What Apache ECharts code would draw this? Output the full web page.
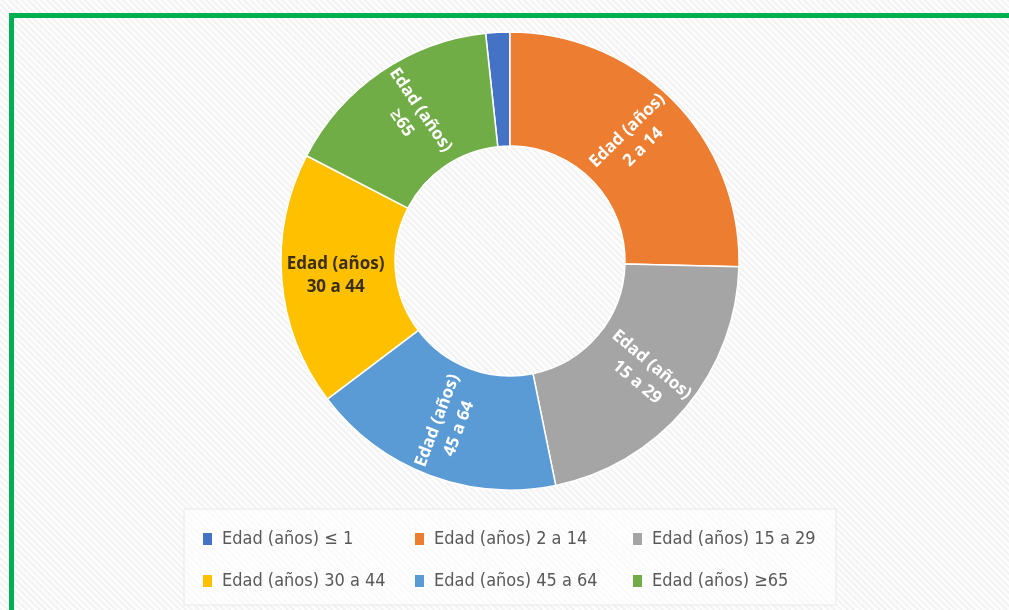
<!DOCTYPE html>
<html>
<head>
<meta charset="utf-8">
<script src="https://cdn.jsdelivr.net/npm/echarts@6.0.0/dist/echarts.min.js"></script>
<style>
  html, body {
    margin: 0;
    padding: 0;
    width: 1009px;
    height: 610px;
    overflow: hidden;
    background: repeating-linear-gradient(45deg, #f3f3f3 0px, #f3f3f3 2px, #fdfdfd 2px, #fdfdfd 4.5px);
  }
  #donut {
    width: 1009px;
    height: 610px;
  }
</style>
</head>
<body>
<div id="donut"></div>
<script>
// grupos de edad, en el orden de las porciones (sentido horario desde arriba)
var grupos = ['Edad (años) ≤ 1', 'Edad (años) 2 a 14', 'Edad (años) 15 a 29', 'Edad (años) 45 a 64', 'Edad (años) 30 a 44', 'Edad (años) ≥65']
var etiquetas = ['', 'Edad (años)\n2 a 14', 'Edad (años)\n15 a 29', 'Edad (años)\n45 a 64', 'Edad (años)\n30 a 44', 'Edad (años)\n≥65']
var porcentajes = [1.7, 25.4, 21.4, 17.9, 17.9, 15.7]
var colores = ['#4472C4', '#ED7D31', '#A5A5A5', '#5B9BD5', '#FFC000', '#70AD47']

// columnas de la leyenda (dos filas)
var leyendaCol1 = ['Edad (años) ≤ 1', 'Edad (años) 30 a 44']
var leyendaCol2 = ['Edad (años) 2 a 14', 'Edad (años) 45 a 64']
var leyendaCol3 = ['Edad (años) 15 a 29', 'Edad (años) ≥65']

var myChart = echarts.init(document.getElementById('donut'))

var datos = []
for (var i = 0; i < grupos.length; i++) {
  var esAmarillo = grupos[i] === 'Edad (años) 30 a 44'
  datos.push({
    name: grupos[i],
    value: porcentajes[i],
    itemStyle: { color: colores[i] },
    label: {
      show: etiquetas[i] !== '',
      formatter: etiquetas[i],
      rotate: esAmarillo ? 0 : 'radial',
      color: esAmarillo ? '#3a2e14' : '#ffffff'
    }
  })
}

function leyenda(data, left) {
  return {
    data: data,
    orient: 'vertical',
    left: left,
    top: 525,
    itemGap: 24,
    itemWidth: 11,
    itemHeight: 14,
    icon: 'rect',
    textStyle: {
      color: '#595959',
      fontSize: 18,
      padding: [0, 0, 0, 4],
      fontFamily: 'Liberation Sans Narrow, DejaVu Sans Condensed, sans-serif'
    }
  }
}

var option = {
  backgroundColor: 'transparent',
  animation: false,
  color: colores,
  graphic: [
    {
      type: 'rect',
      shape: { x: 184, y: 509, width: 652, height: 96 },
      style: { fill: 'rgba(255,255,255,0.55)', stroke: '#e8e8e8', lineWidth: 1 },
      z: -1
    },
    {
      type: 'rect',
      shape: { x: 11.5, y: 15.5, width: 1020, height: 620 },
      style: { fill: 'none', stroke: '#00B050', lineWidth: 5 },
      z: 10
    }
  ],
  legend: [leyenda(leyendaCol1, 196), leyenda(leyendaCol2, 408), leyenda(leyendaCol3, 626)],
  series: [
    {
      type: 'pie',
      center: [510, 261],
      radius: [115, 229],
      startAngle: 90 + porcentajes[0] * 3.6,
      clockwise: true,
      avoidLabelOverlap: false,
      itemStyle: {
        borderColor: '#ffffff',
        borderWidth: 1.5
      },
      label: {
        position: 'inside',
        fontSize: 17,
        fontWeight: 'bold',
        lineHeight: 23,
        fontFamily: 'Open Sans, Liberation Sans, sans-serif'
      },
      labelLine: { show: false },
      data: datos
    }
  ]
}

myChart.setOption(option)
</script>
</body>
</html>
